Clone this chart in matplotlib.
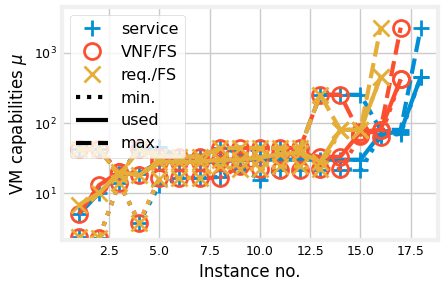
import matplotlib
matplotlib.use("Agg")
import matplotlib.pyplot as plt
from matplotlib.lines import Line2D

# instance numbers per approach
x_service = list(range(1, 19))
x_vnf = list(range(1, 18))
x_req = list(range(1, 17))

# VM capabilities (min / used / max)
service_min = [2.4, 2.3, 14, 3.8, 13, 16.5, 16.5, 17, 24, 15.5, 21.7, 21.7, 21.7, 21.7, 21.7, 65, 70, 460]
service_used = [5, 10, 19, 19, 28, 28, 28, 28, 30, 30, 30, 30, 30, 30, 30, 70, 75, 460]
service_max = [42, 42, 19, 42, 45, 33, 33, 44, 38, 44, 44, 44, 253, 253, 253, 80, 80, 2300]

vnf_min = [2.4, 2.3, 14, 3.8, 16.5, 16.5, 16.5, 16.5, 24, 22, 21.7, 21.7, 22, 22, 65, 64, 420]
vnf_used = [5, 13, 20, 18, 28, 28, 28, 30, 30, 32, 36, 36, 33, 33, 75, 80, 420]
vnf_max = [42, 42, 20, 42, 33, 33, 33, 44, 44, 44, 44, 44, 253, 253, 68, 80, 2300]

req_min = [2.4, 2.3, 14, 3.8, 16, 16.5, 16.5, 24, 22, 22, 24, 24, 22, 80, 80, 450]
req_used = [6.8, 10, 20, 18, 28, 28, 28, 30, 30, 32, 36, 38, 28, 80, 80, 450]
req_max = [42, 42, 18, 42, 33, 33, 33, 44, 44, 44, 44, 44, 253, 80, 80, 2300]

plt.style.use("fivethirtyeight")
plt.rcParams["figure.facecolor"] = "white"
plt.rcParams["axes.facecolor"] = "white"
plt.rcParams["savefig.facecolor"] = "white"
plt.rcParams["savefig.edgecolor"] = "white"

fig = plt.figure(figsize=(4.45, 2.87), dpi=100)
ax = fig.add_axes([0.139, 0.164, 0.845, 0.811])

groups = [
    ("service", "#008fd5", "+", x_service, service_min, service_used, service_max),
    ("VNF/FS", "#fc4f30", "o", x_vnf, vnf_min, vnf_used, vnf_max),
    ("req./FS", "#e5ae38", "x", x_req, req_min, req_used, req_max),
]

for name, col, mk, xs, lo, used, hi in groups:
    for ys, ls in ((lo, ":"), (used, "-"), (hi, "--")):
        ax.plot(xs, ys, color=col, linestyle=ls, linewidth=3, marker=mk,
                markersize=11.5, markeredgewidth=2, markerfacecolor="none")

ax.set_yscale("log")
ax.set_ylim(2.15, 4500)
ax.set_xlabel("Instance no.", fontsize=12)
ax.set_ylabel("VM capabilities $\\mu$", fontsize=12)
ax.tick_params(labelsize=9)
ax.minorticks_off()

handles = [
    Line2D([], [], color="#008fd5", marker="+", linestyle="none", markersize=11.5, markeredgewidth=2),
    Line2D([], [], color="#fc4f30", marker="o", linestyle="none", markersize=11.5, markeredgewidth=2, markerfacecolor="none"),
    Line2D([], [], color="#e5ae38", marker="x", linestyle="none", markersize=11.5, markeredgewidth=2),
    Line2D([], [], color="black", linestyle=":", linewidth=3),
    Line2D([], [], color="black", linestyle="-", linewidth=3),
    Line2D([], [], color="black", linestyle="--", linewidth=3),
]
labels = ["service", "VNF/FS", "req./FS", "min.", "used", "max."]
ax.legend(handles, labels, loc="upper left", fontsize=11.5)

fig.savefig("out.png", dpi=100)
